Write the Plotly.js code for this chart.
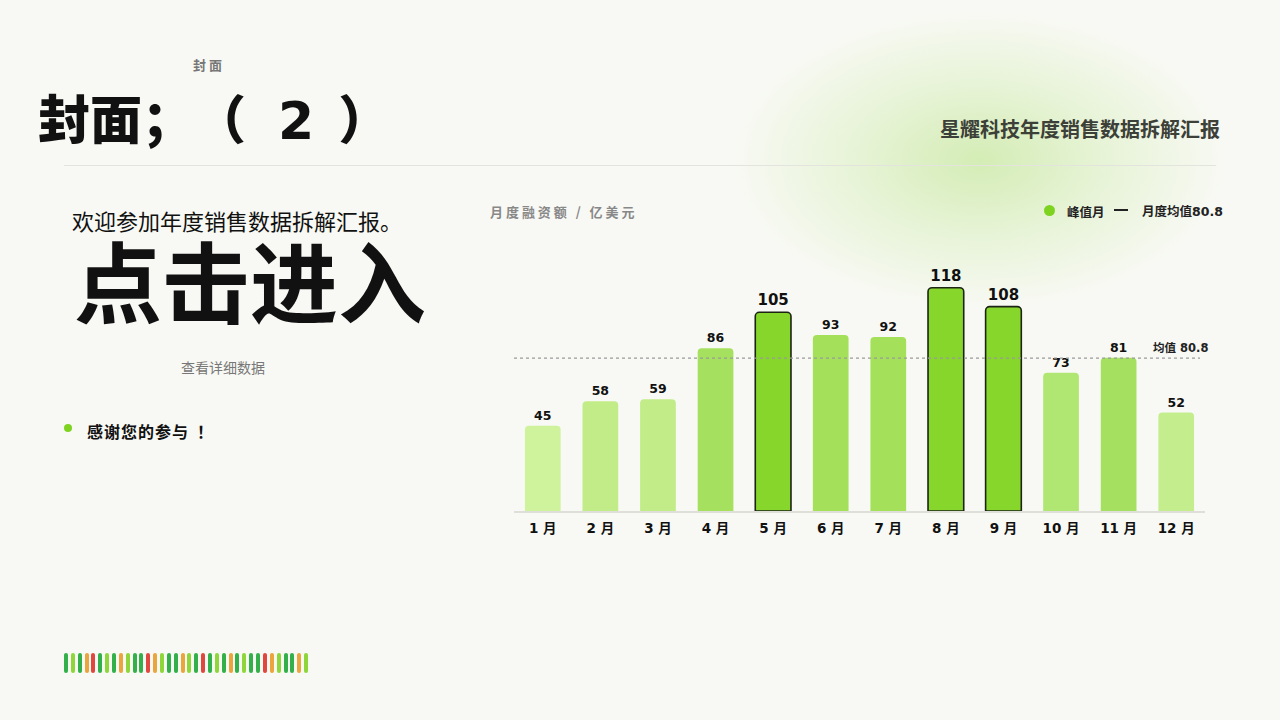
<!DOCTYPE html>
<html>
<head>
<meta charset="utf-8">
<script src="https://cdn.plot.ly/plotly-3.0.1.min.js"></script>
<style>
  html, body { margin: 0; padding: 0; }
  body {
    width: 1280px; height: 720px; overflow: hidden; position: relative;
    background: #f8f9f4;
    font-family: "Noto Sans CJK SC", "Noto Sans", sans-serif;
  }
  #glow {
    position: absolute; left: 730px; top: 10px; width: 500px; height: 300px;
    background: radial-gradient(ellipse at 50% 50%, rgba(200,232,160,0.75) 0%, rgba(214,238,185,0.5) 35%, rgba(248,249,244,0) 70%);
  }
  #chart { position: absolute; left: 0; top: 0; width: 1280px; height: 720px; }
  .t { position: absolute; white-space: nowrap; }
  #rule { position: absolute; left: 64px; top: 165px; width: 1152px; height: 1px; background: #e2e4dd; }
  #strip { position: absolute; left: 64px; top: 653px; height: 20px; display: flex; gap: 2.86px; }
  #strip div { width: 4px; height: 20px; border-radius: 2px; }
  #big span { display: inline-block; }
</style>
</head>
<body>
<div id="glow"></div>
<div id="rule"></div>
<div class="t" style="left:193px;top:55px;font-size:13px;font-weight:700;color:#777;letter-spacing:3px;">封面</div>
<div class="t" id="big" style="left:38px;top:82px;font-size:52px;font-weight:900;color:#111;line-height:70px;">封面；<span>（</span><span style="margin-left:32px;font-family:'DejaVu Sans';font-weight:700;">2</span><span style="margin-left:24px;">）</span></div>
<div class="t" style="right:60px;top:114px;font-size:20px;font-weight:700;color:#3c4038;">星耀科技年度销售数据拆解汇报</div>
<div class="t" style="left:72px;top:208px;font-size:22px;color:#111;line-height:24px;">欢迎参加年度销售数据拆解汇报。</div>
<div class="t" style="left:74px;top:235px;font-size:88px;font-weight:700;color:#111;line-height:86px;">点击进入</div>
<div class="t" style="left:181px;top:357px;font-size:14px;color:#777;">查看详细数据</div>
<div class="t" style="left:64px;top:424px;width:8px;height:8px;border-radius:4px;background:#7ed321;"></div>
<div class="t" style="left:87px;top:419px;font-size:16px;font-weight:700;color:#111;letter-spacing:1px;">感谢您的参与<span style="margin-left:8px;">！</span></div>
<div id="strip"></div>
<div id="chart"></div>
<script>
const months = ['1 月', '2 月', '3 月', '4 月', '5 月', '6 月', '7 月', '8 月', '9 月', '10 月', '11 月', '12 月'];
const funding = [45, 58, 59, 86, 105, 93, 92, 118, 108, 73, 81, 52];
const peakMonths = ['5 月', '8 月', '9 月'];
const meanValue = 80.8;

const barColors = ['#cff29c', '#c2ec88', '#c2ec88', '#a5e05e', '#86d62c', '#a4e05a',
  '#a4e05a', '#86d62c', '#86d62c', '#b0e672', '#a6e060', '#c4ee8e'];
const stripColors = ['g', 'l', 'g', 'o', 'r', 'g', 'l', 'g', 'o', 'l', 'g', 'g',
  'r', 'o', 'l', 'g', 'g', 'o', 'l', 'g', 'r', 'g', 'l', 'g',
  'o', 'g', 'l', 'g', 'g', 'r', 'o', 'l', 'g', 'g', 'o', 'l'];
const stripPalette = { g: '#34b04a', l: '#8ed63a', o: '#eaa53c', r: '#e0483f' };

// decorative strip at the bottom
const strip = document.getElementById('strip');
stripColors.forEach(c => {
  const d = document.createElement('div');
  d.style.background = stripPalette[c];
  strip.appendChild(d);
});

const isPeak = months.map(m => peakMonths.includes(m));
const numFont = 'DejaVu Sans, Noto Sans CJK SC, sans-serif';

const bars = {
  type: 'bar',
  x: months,
  y: funding,
  text: funding.map(String),
  textposition: 'outside',
  cliponaxis: false,
  textfont: {
    family: numFont,
    color: '#111',
    size: isPeak.map(p => p ? 15 : 12.5),
    weight: 700
  },
  marker: {
    color: barColors,
    cornerradius: 4,
    line: { color: isPeak.map(p => p ? '#1c2414' : 'rgba(0,0,0,0)'), width: isPeak.map(p => p ? 1.6 : 0) }
  },
  width: 0.62,
  hoverinfo: 'x+y',
  showlegend: false
};

const layout = {
  width: 1280,
  height: 720,
  margin: { l: 0, r: 0, t: 0, b: 0 },
  paper_bgcolor: 'rgba(0,0,0,0)',
  plot_bgcolor: 'rgba(0,0,0,0)',
  font: { family: 'Noto Sans CJK SC, sans-serif', color: '#111' },
  xaxis: {
    domain: [514 / 1280, 1205 / 1280],
    range: [-0.5, 11.5],
    showgrid: false,
    zeroline: false,
    showline: true,
    linecolor: '#dedfd9',
    linewidth: 1.5,
    ticks: '',
    ticklabelstandoff: 4,
    tickfont: { family: numFont, size: 13.5, color: '#111', weight: 700 },
    anchor: 'y',
    fixedrange: true
  },
  yaxis: {
    domain: [1 - 511 / 720, 1 - 265 / 720],
    range: [0, 130],
    visible: false,
    fixedrange: true
  },
  shapes: [
    { type: 'line', xref: 'paper', yref: 'y', x0: 514 / 1280, x1: 1200 / 1280, y0: meanValue, y1: meanValue,
      line: { color: '#9a9a9a', width: 1.2, dash: 'dot' } },
    { type: 'circle', xref: 'paper', yref: 'paper', x0: 1044 / 1280, x1: 1055 / 1280, y0: 1 - 216 / 720, y1: 1 - 205 / 720,
      fillcolor: '#7ed321', line: { width: 0 } },
    { type: 'line', xref: 'paper', yref: 'paper', x0: 1114 / 1280, x1: 1128 / 1280, y0: 1 - 210 / 720, y1: 1 - 210 / 720,
      line: { color: '#222', width: 2 } }
  ],
  annotations: [
    { xref: 'paper', yref: 'paper', x: 488 / 1280, y: 1 - 211 / 720, xanchor: 'left', yanchor: 'middle', showarrow: false,
      text: '月 度 融 资 额 &nbsp; / &nbsp; 亿 美 元', font: { size: 13, color: '#888', weight: 700 } },
    { xref: 'paper', yref: 'paper', x: 1065 / 1280, y: 1 - 211 / 720, xanchor: 'left', yanchor: 'middle', showarrow: false,
      text: '峰值月', font: { size: 12.5, color: '#222', weight: 700 } },
    { xref: 'paper', yref: 'paper', x: 1225 / 1280, y: 1 - 211 / 720, xanchor: 'right', yanchor: 'middle', showarrow: false,
      text: '月度均值80.8', font: { family: numFont, size: 12.5, color: '#222', weight: 700 } },
    { xref: 'paper', yref: 'y', x: 1210 / 1280, y: meanValue, xanchor: 'right', yanchor: 'bottom', yshift: 1, showarrow: false,
      text: '均值 ' + meanValue, font: { family: numFont, size: 11.5, color: '#222', weight: 700 } }
  ]
};

Plotly.newPlot('chart', [bars], layout, { displayModeBar: false, staticPlot: true });
</script>
</body>
</html>
